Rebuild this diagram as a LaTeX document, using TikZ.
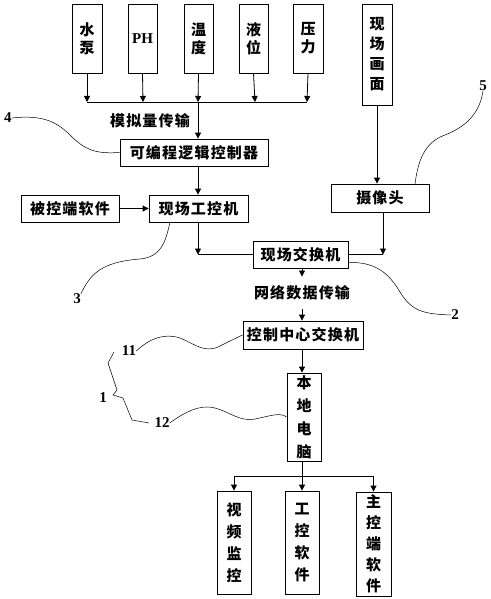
\documentclass[tikz,border=0pt]{standalone}
\usepackage{fontspec}
\setmainfont{Noto Sans CJK SC}
\newfontfamily\zhf{Noto Sans CJK SC}[LetterSpace=8]
\newfontfamily\numfont{Liberation Serif}
\usetikzlibrary{arrows.meta}
\newcommand{\zh}{\zhf\bfseries\fontsize{15}{18}\selectfont}
\newcommand{\zhv}[1]{\zhf\bfseries\fontsize{15}{#1}\selectfont}
\begin{document}
\begin{tikzpicture}[x=1pt,y=-1pt,
  box/.style={draw, line width=0.8pt, inner sep=0pt, align=center, font=\zh},
  arr/.style={line width=0.8pt, -{Triangle[length=6pt,width=6pt]}},
  ln/.style={line width=0.8pt},
  lead/.style={line width=0.5pt},
  num/.style={font=\numfont\bfseries\fontsize{15}{15}\selectfont, inner sep=0pt},
  lbl/.style={font=\zh, inner sep=0pt}]
\useasboundingbox (0,0) rectangle (490,599);
% top sensor boxes
\node[box, minimum width=30, minimum height=69] (pump) at (87,38.5) {水\\泵};
\node[box, minimum width=29, minimum height=69] (ph) at (142.5,38.5) {\numfont\bfseries\fontsize{15}{15}\selectfont PH};
\node[box, minimum width=29, minimum height=69] (temp) at (198.5,38.5) {温\\度};
\node[box, minimum width=29, minimum height=69] (level) at (253.5,38.5) {液\\位};
\node[box, minimum width=30, minimum height=69] (press) at (308,38.5) {压\\力};
\node[box, minimum width=30, minimum height=101, font=\zhv{20}] (scene) at (377,54.5) {现\\场\\画\\面};
% bus
\coordinate (b1) at (87,102);
\coordinate (b2) at (143,102);
\coordinate (b3) at (198,102);
\coordinate (b4) at (255,102);
\coordinate (b5) at (307,102);
\foreach \s/\b in {pump/b1, ph/b2, temp/b3, level/b4, press/b5}
  \draw[arr] (\s.south) -- (\b);
\draw[ln] (b1) -- (b5);
\node[lbl] (analog) at (150,121) {模拟量传输};
% PLC
\node[box, minimum width=148, minimum height=27] (plc) at (194,152.5) {可编程逻辑控制器};
\draw[arr] (b3) -- (b3 |- plc.north);
% camera
\node[box, minimum width=98, minimum height=28] (cam) at (380,198) {摄像头};
\draw[arr] (scene.south) -- (scene.south |- cam.north);
% IPC row
\node[box, minimum width=98, minimum height=27] (ctrl) at (70,208.5) {被控端软件};
\node[box, minimum width=99, minimum height=27] (ipc) at (198.5,208.5) {现场工控机};
\draw[arr] (b3 |- plc.south) -- (b3 |- ipc.north);
\draw[arr] (ctrl) -- (ipc);
% field switch
\node[box, minimum width=95, minimum height=27] (fsw) at (300.5,254.5) {现场交换机};
\coordinate (j1) at (198,254.5);
\coordinate (j2) at (383,254.5);
\draw[arr] (j1 |- ipc.south) -- (j1);
\draw[ln] (j1) -- (fsw.west);
\draw[arr] (j2 |- cam.south) -- (j2);
\draw[ln] (j2) -- (fsw.east);
% network
\node[lbl, inner ysep=9pt] (net) at (302,293) {网络数据传输};
\draw[arr] (fsw.south -| net.north) -- (net.north);
\node[box, minimum width=120, minimum height=28] (csw) at (303,335) {控制中心交换机};
\draw[arr] (net.south) -- (net.south |- csw.north);
% local pc
\node[box, minimum width=34, minimum height=88, font=\zhv{23}] (pc) at (304,417) {本\\地\\电\\脑};
\draw[arr] (csw.south -| net.south) -- (net.south |- pc.north);
% bottom
\node[box, minimum width=34, minimum height=103, font=\zhv{22}] (video) at (234,542.5) {视\\频\\监\\控};
\node[box, minimum width=34, minimum height=103, font=\zhv{22}] (soft) at (302,542.5) {工\\控\\软\\件};
\node[box, minimum width=35, minimum height=104, font=\zhv{21}] (main) at (373.5,544) {主\\控\\端\\软\\件};
\coordinate (k) at (302,476);
\draw[ln] (pc.south -| k) -- (k);
\draw[ln] (video.north |- k) -- (main.north |- k);
\draw[arr] (video.north |- k) -- (video.north);
\draw[arr] (k) -- (soft.north);
\draw[arr] (main.north |- k) -- (main.north);
% reference numbers
\node[num] (n4) at (8,118) {4};
\draw[lead] (n4.east) .. controls (40,115) and (55,120) .. (70,135) .. controls (85,150) and (95,154) .. (plc.west);
\node[num] (n5) at (483,86) {5};
\draw[lead] (n5.south) .. controls (480,110) and (470,125) .. (445,135) .. controls (425,142) and (418,160) .. (415,184);
\node[num] (n3) at (77,299) {3};
\draw[lead] (n3.north east) .. controls (90,275) and (100,262) .. (140,259) .. controls (162,257) and (166,240) .. (170,222);
\node[num] (n2) at (455,315) {2};
\draw[lead] (fsw.south east) ++(0,-6) .. controls (375,262) and (388,272) .. (400,292) .. controls (412,312) and (425,314) .. (n2.west);
\node[num] (n11) at (129,351) {11};
\draw[lead] (n11.east) .. controls (150,338) and (165,333) .. (180,338) .. controls (195,344) and (205,354) .. (220,346) .. controls (230,341) and (236,338) .. (csw.west);
\node[num] (n12) at (162,423) {12};
\draw[lead] (n12.east) .. controls (185,412) and (200,404) .. (215,408) .. controls (230,412) and (240,422) .. (255,419) .. controls (270,416) and (280,412) .. (pc.west);
\node[num] (n1) at (103,398) {1};
\coordinate (br0) at (114,352);
\coordinate (br1) at (108,363);
\coordinate (br2) at (117,390);
\coordinate (br3) at (113,395);
\coordinate (br4) at (123,398);
\coordinate (br5) at (132,420);
\coordinate (br6) at (149,423);
\draw[lead] (br0) -- (br1) -- (br2) -- (br3) -- (br4) -- (br5) -- (br6);
\end{tikzpicture}
\end{document}
